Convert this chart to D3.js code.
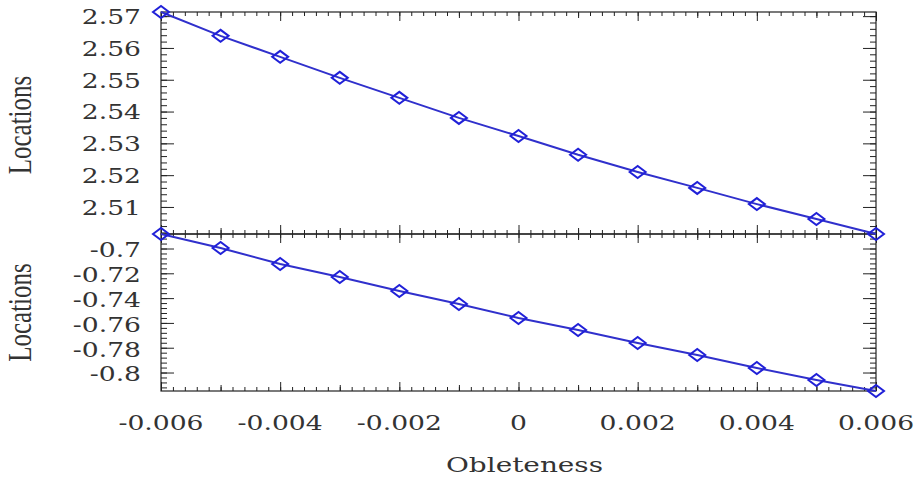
<!DOCTYPE html>
<html>
<head>
<meta charset="utf-8">
<script src="https://cdn.jsdelivr.net/npm/d3@7"></script>
<style>
  body { margin: 0; background: #fff; }
  svg { display: block; }
</style>
</head>
<body>
<div id="chart"></div>
<script>
const width = 917
const height = 482
const margin = { left: 161, right: 41, top: 12, mid: 234, bottom: 91 }
const stretch = 1.33

// data
const oblateness = [-0.006, -0.005, -0.004, -0.003, -0.002, -0.001, 0, 0.001, 0.002, 0.003, 0.004, 0.005, 0.006]
const locTop = [2.5713, 2.5638, 2.5572, 2.5506, 2.5443, 2.5380, 2.5323, 2.5264, 2.5210, 2.5160, 2.5109, 2.5062, 2.5015]
const locBottom = [-0.6883, -0.6996, -0.7125, -0.7230, -0.7343, -0.7448, -0.7560, -0.7657, -0.7762, -0.7859, -0.7964, -0.8060, -0.8149]

const xTickLabels = [-0.006, -0.004, -0.002, 0, 0.002, 0.004, 0.006]
const topTickLabels = [2.51, 2.52, 2.53, 2.54, 2.55, 2.56, 2.57]
const bottomTickLabels = [-0.8, -0.78, -0.76, -0.74, -0.72, -0.7]

const svg = d3.select("div#chart").append("svg").attr("width", width).attr("height", height)

const x = d3.scaleLinear().domain([-0.006, 0.006]).range([margin.left, width - margin.right])
const yTop = d3.scaleLinear().domain(d3.extent(locTop)).range([margin.mid, margin.top])
const yBot = d3.scaleLinear().domain(d3.extent(locBottom)).range([height - margin.bottom, margin.mid])

const xMinor = d3.range(-30, 31).map(i => +(i * 0.0002).toFixed(4))
const xMed = d3.range(-6, 7).filter(i => i % 2 != 0).map(i => +(i * 0.001).toFixed(3))
const topMinor = d3.range(1251, 1286).map(i => +(i * 0.002).toFixed(3)).filter(v => v >= 2.5015 && v <= 2.5713)
const botMinor = d3.range(-204, -171).map(i => +(i * 0.004).toFixed(3)).filter(v => v >= -0.8149 && v <= -0.6883)

const frameColor = "#222"

function drawTicks(g, axis, values, size) {
    g.call(axis.tickValues(values).tickSize(size).tickFormat(""))
    g.select(".domain").remove()
    g.selectAll(".tick line").attr("stroke", frameColor).attr("stroke-width", 1)
}

function panel(y, minorY, majorY) {
    const [y0, y1] = y.range()
    const grp = svg.append("g")
    // bottom edge, ticks pointing up
    const xb = grp.append("g").attr("transform", `translate(0,${y0})`)
    drawTicks(xb.append("g"), d3.axisBottom(x), xMinor, -4)
    drawTicks(xb.append("g"), d3.axisBottom(x), xMed, -6)
    drawTicks(xb.append("g"), d3.axisBottom(x), xTickLabels, -9)
    // top edge, ticks pointing down
    const xt = grp.append("g").attr("transform", `translate(0,${y1})`)
    drawTicks(xt.append("g"), d3.axisTop(x), xMinor, -4)
    drawTicks(xt.append("g"), d3.axisTop(x), xMed, -6)
    drawTicks(xt.append("g"), d3.axisTop(x), xTickLabels, -9)
    // left and right edges
    const yl = grp.append("g").attr("transform", `translate(${x.range()[0]},0)`)
    drawTicks(yl.append("g"), d3.axisLeft(y), minorY, -6)
    drawTicks(yl.append("g"), d3.axisLeft(y), majorY, -13)
    const yr = grp.append("g").attr("transform", `translate(${x.range()[1]},0)`)
    drawTicks(yr.append("g"), d3.axisRight(y), minorY, -6)
    drawTicks(yr.append("g"), d3.axisRight(y), majorY, -13)
    grp.append("rect")
        .attr("x", x.range()[0]).attr("y", y1)
        .attr("width", x.range()[1] - x.range()[0]).attr("height", y0 - y1)
        .attr("fill", "none").attr("stroke", frameColor).attr("stroke-width", 1.2)
}

panel(yTop, topMinor, topTickLabels)
panel(yBot, botMinor, bottomTickLabels)

function label(txt, px, py, anchor, size, family, rotate) {
    const tr = rotate ? `translate(${px},${py}) scale(${stretch},1) rotate(-90)` : `translate(${px},${py}) scale(${stretch},1)`
    svg.append("text")
        .attr("transform", tr)
        .attr("text-anchor", anchor)
        .attr("dominant-baseline", "central")
        .attr("font-family", family)
        .attr("font-size", size)
        .attr("fill", "#333")
        .text(txt)
}

const tickFont = "DejaVu Serif"
xTickLabels.forEach(v => label(String(v), x(v), 423, "middle", 20, tickFont))
topTickLabels.forEach(v => label(v.toFixed(2), 141, yTop(v) + 1, "end", 20, tickFont))
bottomTickLabels.forEach(v => label(String(v), 141, yBot(v) + 2, "end", 20, tickFont))

label("Obleteness", (x.range()[0] + x.range()[1]) / 2 + 6, 465, "middle", 21, tickFont)
label("Locations", 20, (yTop.range()[0] + yTop.range()[1]) / 2 + 2, "middle", 25, "Liberation Serif", true)
label("Locations", 20, (yBot.range()[0] + yBot.range()[1]) / 2, "middle", 25, "Liberation Serif", true)

// series
function series(y, values) {
    const pts = oblateness.map((o, i) => [x(o), y(values[i])])
    svg.append("path")
        .datum(pts)
        .attr("d", d3.line())
        .attr("fill", "none")
        .attr("stroke", "#3030cc")
        .attr("stroke-width", 2)
    svg.append("g").selectAll("path").data(pts).enter()
        .append("path")
        .attr("d", d => `M${d[0] - 8},${d[1]}L${d[0]},${d[1] - 6}L${d[0] + 8},${d[1]}L${d[0]},${d[1] + 6}Z`)
        .attr("fill", "none")
        .attr("stroke", "#2020d8")
        .attr("stroke-width", 2)
}

series(yTop, locTop)
series(yBot, locBottom)
</script>
</body>
</html>
